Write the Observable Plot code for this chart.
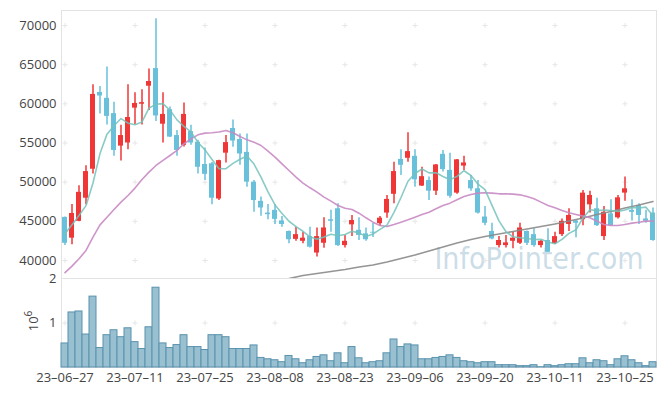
<!DOCTYPE html>
<html><head><meta charset="utf-8">
<script src="https://cdn.jsdelivr.net/npm/d3@7"></script>
<script src="https://cdn.jsdelivr.net/npm/@observablehq/plot@0.6"></script>
<style>body{margin:0;background:#fff} #chart svg{display:block}</style>
</head><body><div id="chart"></div>
<script>
const dates = ["23-06-27","23-06-28","23-06-29","23-06-30","23-07-03","23-07-04","23-07-05","23-07-06","23-07-07","23-07-10","23-07-11","23-07-12","23-07-13","23-07-14","23-07-17","23-07-18","23-07-19","23-07-20","23-07-21","23-07-24","23-07-25","23-07-26","23-07-27","23-07-28","23-07-31","23-08-01","23-08-02","23-08-03","23-08-04","23-08-07","23-08-08","23-08-09","23-08-10","23-08-11","23-08-14","23-08-16","23-08-17","23-08-18","23-08-21","23-08-22","23-08-23","23-08-24","23-08-25","23-08-28","23-08-29","23-08-30","23-08-31","23-09-01","23-09-04","23-09-05","23-09-06","23-09-07","23-09-08","23-09-11","23-09-12","23-09-13","23-09-14","23-09-15","23-09-18","23-09-19","23-09-20","23-09-21","23-09-22","23-09-25","23-09-26","23-09-27","23-10-04","23-10-05","23-10-06","23-10-10","23-10-11","23-10-12","23-10-13","23-10-16","23-10-17","23-10-18","23-10-19","23-10-20","23-10-23","23-10-24","23-10-25","23-10-26","23-10-27","23-10-30","23-10-31"];
const open = [45500,42850,45000,47950,51650,61450,60700,58750,54600,55000,59450,59950,62250,64500,57400,59250,55950,54700,56450,55100,52250,52350,47850,53700,56850,55450,53800,50000,47550,46050,46400,45050,43700,42700,42450,43050,40950,42200,45200,46600,41900,44550,43850,43400,43600,44700,46050,48450,52900,53050,53300,49500,50200,48850,53550,51500,48600,52050,50200,49150,45550,43700,41900,41900,42450,42200,43700,43300,41900,42550,42150,43300,44600,45050,45200,47100,46600,43050,45950,45450,48600,46400,47000,45300,46050];
const high = [45550,47150,49550,52100,62450,62200,64700,60200,57250,62450,61400,61800,64450,70850,61400,59600,56600,60100,57250,55350,54350,52500,52800,55950,57950,56150,56150,50200,48100,47150,47150,45600,43750,44250,43600,44250,44150,45450,46400,47250,43200,45750,45450,44150,44750,45600,48300,52550,54150,56300,54150,51900,50650,52250,54050,53700,52900,53300,50850,50200,46900,44750,43050,43200,43600,44750,43750,44050,42550,44050,43600,45300,46600,45100,48950,48850,47950,46900,47750,48300,50650,47750,47250,46400,46700];
const low = [41900,42000,44950,47100,51050,58700,57300,53300,52700,54150,57350,57300,59150,57750,55000,55700,53300,54500,54700,51050,50200,47100,47650,52450,54450,52150,49350,46150,45650,45200,44600,44250,42150,42450,42150,41600,40450,41550,43600,41800,41600,43050,42550,42450,42950,44350,45400,47250,50850,52550,49350,49450,47650,48300,51300,47950,48450,51500,48850,45950,44450,42650,41600,41600,41500,42050,41900,41700,41600,41050,42050,43050,43700,42900,44450,46050,44350,42550,44350,45300,47550,45050,44600,44750,42450];
const close = [42200,46000,48700,51350,61200,61000,58400,54050,55950,58250,60050,60150,62850,58450,58650,55750,54050,58650,55000,51900,51000,47950,52750,55050,55250,53600,50000,47650,46700,45850,45250,44600,42650,43300,42850,41700,43050,44150,45000,41900,42450,45100,43200,42650,43500,45400,47800,51350,52150,53900,50300,50700,48850,52200,51600,48200,52850,52450,49150,46050,44750,42750,42550,42250,42850,44150,42200,41900,42450,41050,43050,45000,45750,44750,48600,48300,44450,46150,44450,48000,49150,46150,45750,45000,42550];
const volume = [540000,1237000,1259000,741000,1593000,437000,726000,837000,681000,881000,570000,415000,904000,1793000,541000,437000,504000,726000,459000,459000,393000,726000,726000,681000,415000,415000,415000,496000,215000,185000,163000,119000,259000,185000,96000,163000,237000,274000,141000,319000,96000,459000,207000,96000,119000,141000,319000,630000,459000,519000,496000,185000,185000,215000,237000,274000,215000,141000,119000,96000,119000,119000,52000,52000,52000,30000,30000,52000,7000,52000,30000,52000,74000,74000,207000,96000,163000,141000,52000,185000,252000,163000,96000,30000,119000];
const ma5 = [43400,44550,45750,47000,49890,53650,56130,57200,58120,57530,57340,57690,59450,59950,60030,59170,57950,57110,56420,55070,54120,52900,51720,51730,52400,52920,53330,52310,50640,48760,47090,46010,45010,44330,43730,43020,42710,43010,43350,43160,43310,43720,43530,43060,43380,43970,44510,46140,48040,50120,51100,51680,51180,51190,50730,50310,50740,51460,50850,49740,49050,47030,45050,43670,43030,42910,42800,42670,42710,42350,42130,42690,43460,43920,45430,46480,46370,46450,46390,46270,46440,46780,46700,46810,45720];
const ma20 = [38450,39280,40215,41280,42980,44550,45530,46510,47450,48300,49240,50340,51280,52130,52770,53400,54050,54900,55530,56040,56260,56300,56400,56600,56300,55830,55400,55100,54680,53960,53190,52340,51490,50640,49870,49280,48720,48090,47580,47020,46680,46510,46040,45450,44890,44470,44340,44600,44890,45190,45530,45870,46170,46600,47020,47320,47750,48170,48430,48600,48640,48600,48510,48510,48470,48380,48170,47870,47450,47020,46720,46380,46090,45870,45660,45450,45020,44600,44470,44470,44600,44770,44890,45020,45020];
const ma60Days = ["23-08-08","23-08-10","23-08-14","23-08-17","23-08-21","23-08-23","23-08-25","23-08-29","23-08-31","23-09-04","23-09-06","23-09-08","23-09-12","23-09-14","23-09-18","23-09-20","23-09-22","23-09-26","23-10-04","23-10-06","23-10-11","23-10-13","23-10-17","23-10-19","23-10-23","23-10-25","23-10-27","23-10-31"];
const ma60 = [37400,37700,38085,38340,38595,38850,39170,39425,39810,40255,40700,41215,41725,42235,42680,43065,43385,43700,44020,44340,44660,45040,45425,45870,46255,46700,47085,47530];
const xTicks = ["23-06-27","23-07-11","23-07-25","23-08-08","23-08-23","23-09-06","23-09-20","23-10-11","23-10-25"];
const yTicks = [40000,45000,50000,55000,60000,65000,70000];
const volTicks = [1000000, 2000000];
const watermark = "InfoPointer.com";

const RED = "#ef3737", BLUE = "#68c0da";
const rows = dates.map((date, i) => ({date, open: open[i], high: high[i], low: low[i], close: close[i], volume: volume[i], ma5: ma5[i], ma20: ma20[i]}));
const ma60Rows = ma60Days.map((date, i) => ({date, v: ma60[i]}));
const col = d => d.close >= d.open ? RED : BLUE;
const font = {fontFamily: "'Open Sans', sans-serif", fontSize: "13px", color: "#444", background: "white"};

const price = Plot.plot({
  width: 665, height: 278, marginTop: 10, marginBottom: 0, marginLeft: 61, marginRight: 9,
  style: font,
  x: {type: "band", domain: dates, padding: 0, axis: null},
  y: {domain: [37700, 71915], ticks: yTicks, tickFormat: d3.format("d"), tickSize: 0, tickPadding: 5, label: null},
  marks: [
    Plot.frame({stroke: "#e2e2e2"}),
    Plot.text([watermark], {text: d => d, frameAnchor: "bottom-right", textAnchor: "end", lineAnchor: "bottom", dx: -13, dy: -10, fontSize: 30, fontFamily: "'DejaVu Sans Condensed', 'DejaVu Sans'", fill: "#c2d7e3", fillOpacity: 0.85}),
    Plot.dot(d3.cross(xTicks, yTicks), {x: d => d[0], y: d => d[1], symbol: "plus", r: 1.8, stroke: "#e6e6e6", strokeWidth: 1}),
    Plot.ruleX(rows, {x: "date", y1: "low", y2: "high", stroke: col, strokeWidth: 1.5}),
    Plot.barY(rows, {x: "date", y1: "open", y2: "close", fill: col, insetLeft: 1, insetRight: 1}),
    Plot.lineY(ma60Rows, {x: "date", y: "v", stroke: "#8a8a8a", strokeWidth: 1.6, strokeOpacity: 0.9, clip: true}),
    Plot.lineY(rows, {x: "date", y: "ma20", stroke: "#c889c3", strokeWidth: 1.6, strokeOpacity: 0.9, clip: true}),
    Plot.lineY(rows, {x: "date", y: "ma5", stroke: "#74c2bb", strokeWidth: 1.6, strokeOpacity: 0.85, clip: true})
  ]
});

const vol = Plot.plot({
  width: 665, height: 128, marginTop: 10, marginBottom: 29, marginLeft: 61, marginRight: 9,
  style: {...font, background: "transparent"},
  x: {type: "band", domain: dates, padding: 0, ticks: xTicks, tickFormat: d => d.replace(/-/g, "\u2013"), tickSize: 0, tickPadding: 5, label: null},
  y: {domain: [0, 2000000], ticks: volTicks, tickFormat: d => String(d / 1e6), tickSize: 0, tickPadding: 5, label: null},
  marks: [
    Plot.frame({stroke: "#e2e2e2"}),
    Plot.dot(d3.cross(xTicks, [1000000]), {x: d => d[0], y: d => d[1], symbol: "plus", r: 1.8, stroke: "#e6e6e6", strokeWidth: 1}),
    Plot.barY(rows, {x: "date", y: "volume", fill: "#99c0d1", stroke: "#5a92ad", strokeWidth: 1})
  ]
});
vol.style.marginTop = "-10px";
vol.style.position = "relative";
const lab = d3.select(vol).append("text")
  .attr("transform", "translate(38,53) rotate(-90)")
  .attr("text-anchor", "middle").attr("font-family", "'Open Sans', sans-serif")
  .attr("font-size", 13).attr("fill", "#444");
lab.append("tspan").text("10");
lab.append("tspan").attr("dy", -6).attr("font-size", 10).text("6");

document.getElementById("chart").append(price, vol);
</script></body></html>
